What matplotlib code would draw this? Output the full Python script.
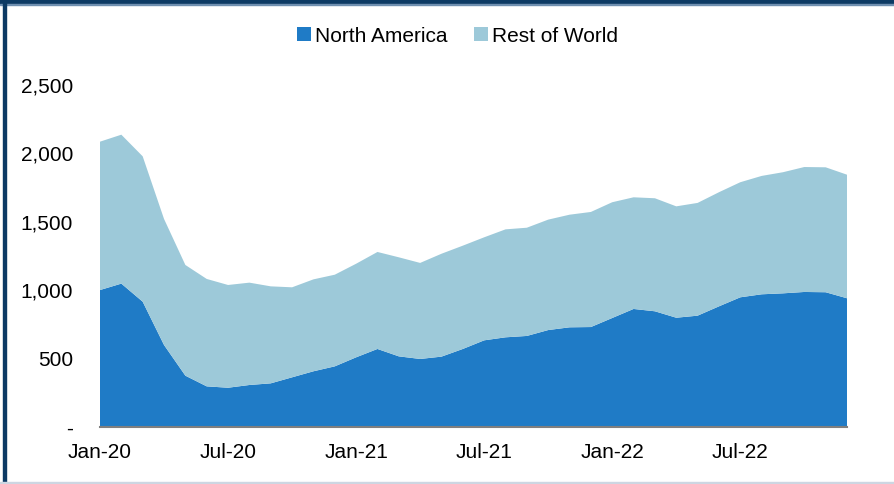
import matplotlib
matplotlib.use("Agg")
import matplotlib.pyplot as plt
from matplotlib.patches import Patch, Rectangle
from matplotlib.ticker import FuncFormatter

plt.rcParams["font.family"] = ["Liberation Sans", "DejaVu Sans"]

# Monthly volumes, Jan-20 .. Dec-22
months = ["Jan-20", "Feb-20", "Mar-20", "Apr-20", "May-20", "Jun-20",
          "Jul-20", "Aug-20", "Sep-20", "Oct-20", "Nov-20", "Dec-20",
          "Jan-21", "Feb-21", "Mar-21", "Apr-21", "May-21", "Jun-21",
          "Jul-21", "Aug-21", "Sep-21", "Oct-21", "Nov-21", "Dec-21",
          "Jan-22", "Feb-22", "Mar-22", "Apr-22", "May-22", "Jun-22",
          "Jul-22", "Aug-22", "Sep-22", "Oct-22", "Nov-22", "Dec-22"]
north_america = [996, 1043, 911, 595, 371, 293, 283, 303, 315, 359, 403, 439,
                 505, 566, 512, 493, 510, 566, 629, 651, 661, 704, 724, 726,
                 792, 858, 841, 794, 809, 877, 943, 965, 972, 982, 980, 936]
total = [2079, 2130, 1972, 1515, 1179, 1077, 1033, 1050, 1023, 1016, 1074, 1108,
         1188, 1274, 1235, 1194, 1261, 1320, 1381, 1439, 1451, 1510, 1546, 1566,
         1637, 1673, 1666, 1607, 1632, 1710, 1783, 1829, 1856, 1894, 1892, 1838]
rest_of_world = [t - n for t, n in zip(total, north_america)]

tick_idx = [0, 6, 12, 18, 24, 30]
tick_labels = [months[i] for i in tick_idx]

NA_COLOR = "#1f7bc6"
ROW_COLOR = "#9dc9d9"
NAVY = "#0d3a64"
FS = 15

W, H = 895, 485
fig = plt.figure(figsize=(W / 100, H / 100), dpi=100)

# frame: navy top band + left rule, light rule at the bottom
fig.patches.append(Rectangle((0, 1 - 5 / H), 1, 5 / H, transform=fig.transFigure,
                             color=NAVY, zorder=0))
fig.patches.append(Rectangle((0, 1 - 6 / H), 1, 1 / H, transform=fig.transFigure,
                             color="#6f8fb0", zorder=0))
fig.patches.append(Rectangle((3 / W, 0), 3 / W, 1, transform=fig.transFigure,
                             color=NAVY, zorder=0))
fig.patches.append(Rectangle((0, 0), 1, 2 / H, transform=fig.transFigure,
                             color="#cdd6e2", zorder=0))

ax = fig.add_axes([100 / W, (H - 427.5) / H, 747 / W, 342.5 / H])
x = list(range(len(months)))
ax.stackplot(x, north_america, rest_of_world, colors=[NA_COLOR, ROW_COLOR],
             linewidth=0)

ax.set_xlim(0, len(months) - 1)
ax.set_ylim(0, 2500)
ax.set_yticks([0, 500, 1000, 1500, 2000, 2500])
ax.yaxis.set_major_formatter(FuncFormatter(lambda v, p: "-" if v == 0 else f"{v:,.0f}"))
ax.set_xticks(tick_idx)
ax.set_xticklabels(tick_labels)

for side in ["top", "right", "left"]:
    ax.spines[side].set_visible(False)
ax.spines["bottom"].set_color("#7f7f7f")
ax.spines["bottom"].set_linewidth(1.5)
ax.spines["bottom"].set_zorder(5)
ax.tick_params(axis="both", length=0, labelsize=FS, colors="#000000")
ax.tick_params(axis="y", pad=19.5)
ax.tick_params(axis="x", pad=11.5)

handles = [Patch(facecolor=NA_COLOR, label="North America"),
           Patch(facecolor=ROW_COLOR, label="Rest of World")]
fig.legend(handles=handles, loc="center", bbox_to_anchor=(457.5 / W, 1 - 36.5 / H),
           ncol=2, frameon=False, fontsize=FS, handlelength=0.65,
           handleheight=0.65, handletextpad=0.2, columnspacing=1.3,
           borderpad=0, borderaxespad=0)

fig.savefig("out.png", dpi=100)
